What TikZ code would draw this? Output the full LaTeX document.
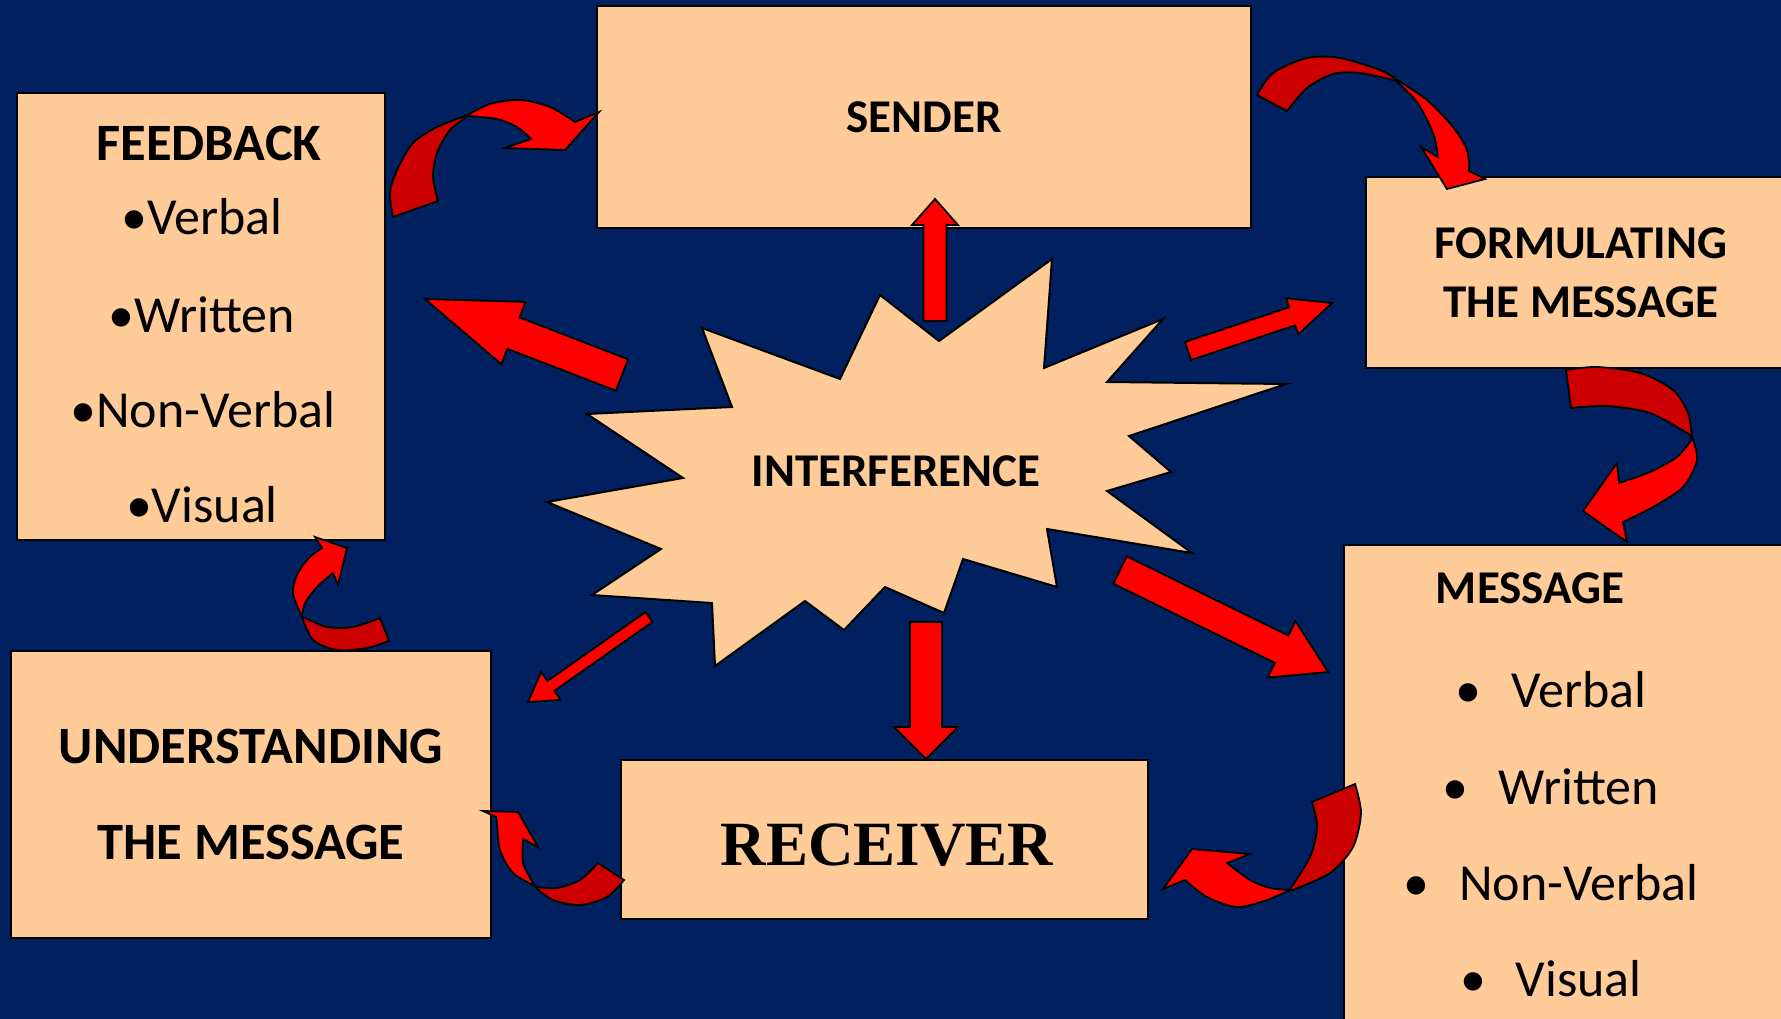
\documentclass[tikz,border=0pt]{standalone}
\usepackage{fontspec}
\setmainfont{Carlito}
\newfontfamily\receiverfont{Liberation Serif}
\usetikzlibrary{calc}
\definecolor{slidenavy}{RGB}{0,32,96}
\definecolor{peach}{RGB}{255,204,153}
\definecolor{arrowred}{RGB}{255,0,0}
\definecolor{shadered}{RGB}{204,0,0}

\tikzset{
  box/.style={draw=black, line width=2pt, fill=peach, inner sep=0pt},
  head/.style={font=\fontsize{47}{59}\selectfont\bfseries},
  bighead/.style={font=\fontsize{52.5}{96}\selectfont\bfseries},
  item/.style={font=\fontsize{52}{62}\selectfont, anchor=base},
  redarrow/.style={draw=black, line width=1.8pt, fill=arrowred},
  backarrow/.style={draw=black, line width=1.8pt, fill=shadered},
  burst/.style={draw=black, line width=2pt, fill=peach},
}

% straight block arrow: tail, tip, half shaft, half head, head length
\newcommand{\blockarrow}[5]{%
  \coordinate (#1b) at ($(#2)!#5!(#1)$);
  \draw[redarrow] ($(#1)!#3!90:(#2)$) -- ($(#1b)!#3!-90:(#1)$) -- ($(#1b)!#4!-90:(#1)$)
    -- (#2) -- ($(#1b)!#4!90:(#1)$) -- ($(#1b)!#3!90:(#1)$) -- ($(#1)!#3!-90:(#2)$) -- cycle;}

\begin{document}
\begin{tikzpicture}[x=1pt, y=-1pt]
    \useasboundingbox (0,0) rectangle (1781,1019);
    \clip (0,0) rectangle (1781,1019);
    \fill[slidenavy] (0,0) rectangle (1781,1019);

    % boxes
    \node[box, minimum width=654pt, minimum height=222pt, head] (sender) at (924,117) {SENDER};
    \node[box, minimum width=368pt, minimum height=447pt]        (feedback) at (201,316.5) {};
    \node[box, minimum width=430pt, minimum height=191pt, head, align=center] (formulating) at (1581,272.5) {FORMULATING\\THE MESSAGE};
    \node[box, minimum width=456pt, minimum height=495pt]        (message) at (1572,792.5) {};
    \node[box, minimum width=480pt, minimum height=287pt, bighead, align=center] (understanding) at (251,794.5) {UNDERSTANDING\\THE MESSAGE};
    \node[box, minimum width=527pt, minimum height=159pt]        (receiver) at (884.5,839.5) {};
    \node[anchor=base, font=\receiverfont\bfseries\fontsize{63}{75}\selectfont] (rcvtitle) at (887,865) {RECEIVER};

    % feedback text
    \node[bighead, anchor=base] (fbtitle)   at (209,161) {FEEDBACK};
    \node[item] (fbverbal)    at (202,235) {•Verbal};
    \node[item] (fbwritten)   at (202,332) {•Written};
    \node[item] (fbnonverbal) at (203,427) {•Non-Verbal};
    \node[item] (fbvisual)    at (202,522) {•Visual};

    % message text
    \node[head, anchor=base] (msgtitle) at (1530,603) {MESSAGE};
    \node[item] (msgverbal)    at (1551,707) {•\hspace{30pt}Verbal};
    \node[item] (msgwritten)   at (1551,804) {•\hspace{30pt}Written};
    \node[item] (msgnonverbal) at (1551,900) {•\hspace{30pt}Non-Verbal};
    \node[item] (msgvisual)    at (1551,996) {•\hspace{30pt}Visual};

    % interference burst
    \draw[burst] (1052,259) -- (1044,368) -- (1163,319) -- (1107,382) -- (1286,384)
        -- (1129,436) -- (1171,472) -- (1107,491) -- (1192,553) -- (1047,529)
        -- (1057,587) -- (963,559) -- (944,613) -- (885,587) -- (844,630)
        -- (805,601) -- (715,666) -- (712,603) -- (592,595) -- (661,549)
        -- (547,502) -- (683,478) -- (587,414) -- (732,407) -- (702,328)
        -- (840,379) -- (880,295) -- (939,341) -- cycle;
    \node[head] (interference) at (896,471) {INTERFERENCE};

    % straight arrows out of the burst
    \coordinate (upT) at (935,321);  \coordinate (upH) at (935,199);
    \coordinate (fbT) at (622,375);  \coordinate (fbH) at (425,299);
    \coordinate (frT) at (1188,351); \coordinate (frH) at (1332,303);
    \coordinate (msT) at (1120,570); \coordinate (msH) at (1328,672);
    \coordinate (rcT) at (926,622);  \coordinate (rcH) at (926,759);
    \coordinate (unT) at (649,617);  \coordinate (unH) at (528,702);
    \blockarrow{upT}{upH}{11.5pt}{23pt}{26pt}
    \blockarrow{fbT}{fbH}{16.8pt}{33.4pt}{94.8pt}
    \blockarrow{frT}{frH}{9.5pt}{19pt}{42pt}
    \blockarrow{msT}{msH}{15.2pt}{31.5pt}{51.7pt}
    \blockarrow{rcT}{rcH}{16pt}{32pt}{32pt}
    \blockarrow{unT}{unH}{6pt}{17pt}{28pt}

    % curved arrows round the cycle
    % feedback -> sender
    \draw[backarrow] plot[smooth] coordinates {(393,217) (390,193) (397,170) (413,143) (437,127) (468,115)}
        -- plot[smooth] coordinates {(468,116) (450,130) (437,153) (433,177) (438,201)} -- cycle;
    \draw[redarrow] plot[smooth] coordinates {(468,115) (490,104) (520,100) (550,107) (575,122)}
        -- (599,112) -- (565,150) -- (505,148) -- (531,139)
        -- plot[smooth] coordinates {(531,139) (517,127) (497,119) (468,116)} -- cycle;
    % sender -> formulating
    \draw[backarrow] plot[smooth] coordinates {(1257,95) (1273,73) (1307,58) (1340,58) (1380,70) (1397,80)}
        -- plot[smooth] coordinates {(1397,81) (1360,73) (1333,74) (1307,88) (1287,111)} -- cycle;
    \draw[redarrow] plot[smooth] coordinates {(1397,80) (1427,100) (1453,127) (1467,150) (1469,171)}
        -- (1485,179) -- (1447,189) -- (1421,147) -- (1438,157)
        -- plot[smooth] coordinates {(1438,157) (1433,133) (1417,102) (1397,82)} -- cycle;
    % formulating -> message
    \draw[backarrow] plot[smooth] coordinates {(1566,370) (1597,367) (1640,373) (1673,390) (1688,413) (1692,437)}
        -- plot[smooth] coordinates {(1691,437) (1687,433) (1650,413) (1607,406) (1571,408)} -- cycle;
    \draw[redarrow] plot[smooth] coordinates {(1692,437) (1697,460) (1683,487) (1653,507) (1623,522)}
        -- (1627,542) -- (1583,511) -- (1617,463) -- (1619,483)
        -- plot[smooth] coordinates {(1619,483) (1650,472) (1677,457) (1692,439)} -- cycle;
    % message -> receiver
    \draw[backarrow] plot[smooth] coordinates {(1355,784) (1361,813) (1353,847) (1330,873) (1290,891)}
        -- plot[smooth] coordinates {(1290,889) (1310,857) (1317,827) (1312,802)} -- cycle;
    \draw[redarrow] plot[smooth] coordinates {(1290,890) (1267,900) (1237,907) (1207,897) (1185,880)}
        -- (1163,889) -- (1192,849) -- (1250,854) -- (1227,863)
        -- plot[smooth] coordinates {(1227,863) (1250,880) (1270,888) (1290,890)} -- cycle;
    % receiver -> understanding
    \draw[backarrow] plot[smooth] coordinates {(624,880) (607,897) (580,905) (553,900) (535,887)}
        -- plot[smooth] coordinates {(537,887) (557,888) (580,880) (598,863)} -- cycle;
    \draw[redarrow] plot[smooth] coordinates {(535,886) (513,873) (500,850) (497,823) (496,817)}
        -- (483,811) -- (518,812) -- (538,847) -- (523,839)
        -- plot[smooth] coordinates {(523,839) (523,863) (533,883)} -- cycle;
    % understanding -> feedback
    \draw[backarrow] plot[smooth] coordinates {(389,641) (367,648) (337,650) (313,640) (302,617)}
        -- plot[smooth] coordinates {(303,617) (327,627) (353,627) (380,618)} -- cycle;
    \draw[redarrow] plot[smooth] coordinates {(302,617) (293,593) (298,573) (310,557) (322,548)}
        -- (315,537) -- (347,548) -- (338,585) -- (333,573)
        -- plot[smooth] coordinates {(333,573) (317,587) (305,603) (302,616)} -- cycle;
\end{tikzpicture}
\end{document}
